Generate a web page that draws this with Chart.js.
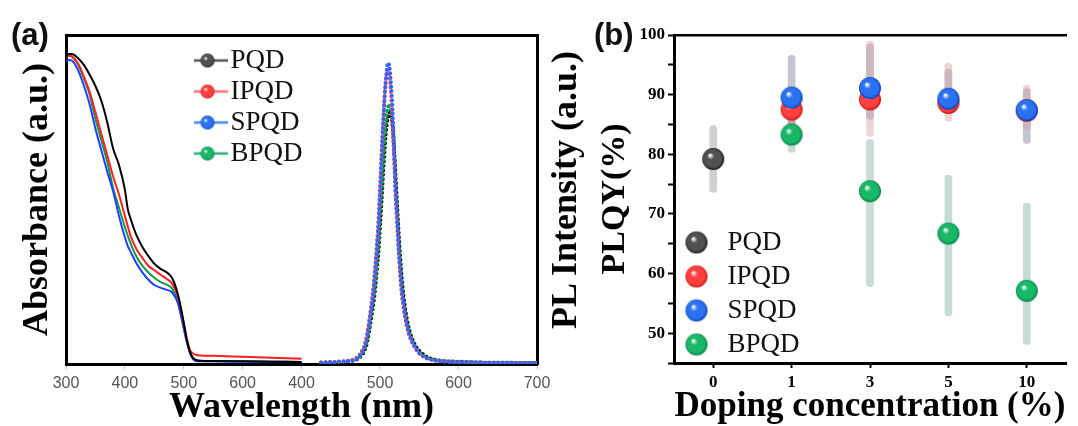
<!DOCTYPE html>
<html>
<head>
<meta charset="utf-8">
<title>Absorbance / PL / PLQY</title>
<script src="https://cdn.jsdelivr.net/npm/chart.js@4.4.1/dist/chart.umd.min.js"></script>
<style>
  body { margin: 0; background: #fff; }
  #wrap { position: relative; width: 1078px; height: 426px; overflow: hidden; background: #fff; }
  #chartA { position: absolute; left: 0; top: 0; }
  #chartB { position: absolute; left: 585px; top: 0; }
  .panel { position: absolute; font: bold 31px 'Liberation Sans', Arial, sans-serif; color: #111; }
  #plTitle {
    position: absolute; left: 564px; top: 190px;
    transform: translate(-50%, -50%) rotate(-90deg);
    font: bold 36px 'Liberation Serif', 'Times New Roman', serif;
    white-space: nowrap; color: #000;
  }
</style>
</head>
<body>
<div id="wrap">
  <canvas id="chartA" width="585" height="426"></canvas>
  <canvas id="chartB" width="493" height="426"></canvas>
  <div class="panel" style="left:11px;top:17px">(a)</div>
  <div class="panel" style="left:594px;top:17px">(b)</div>
  <div id="plTitle">PL Intensity (a.u.)</div>
</div>

<script>
// ---- panel (a): absorbance spectra ----
const absWavelength = [300, 305, 310, 320, 330, 340, 350, 360, 370, 380, 390, 400, 405, 410, 420, 430,
                       440, 450, 460, 470, 480, 490, 500, 505, 510, 515, 520, 530, 550, 600, 650, 700];
const absPQD  = [0.935, 0.942, 0.942, 0.93, 0.91, 0.88, 0.845, 0.80, 0.735, 0.655, 0.605, 0.53, 0.47, 0.44, 0.39, 0.355,
                 0.328, 0.305, 0.29, 0.28, 0.262, 0.212, 0.125, 0.075, 0.04, 0.02, 0.013, 0.01, 0.009, 0.008, 0.007, 0.006];
const absIPQD = [0.935, 0.937, 0.935, 0.915, 0.875, 0.828, 0.765, 0.70, 0.635, 0.57, 0.515, 0.45, 0.418, 0.388, 0.348, 0.322,
                 0.298, 0.285, 0.272, 0.26, 0.245, 0.205, 0.125, 0.08, 0.045, 0.033, 0.028, 0.026, 0.025, 0.022, 0.019, 0.016];
const absSPQD = [0.922, 0.924, 0.922, 0.895, 0.848, 0.79, 0.715, 0.65, 0.585, 0.525, 0.45, 0.385, 0.358, 0.34, 0.305, 0.278,
                 0.256, 0.24, 0.232, 0.226, 0.218, 0.185, 0.108, 0.068, 0.037, 0.017, 0.01, 0.008, 0.008, 0.007, 0.007, 0.006];
const absBPQD = [0.933, 0.939, 0.935, 0.912, 0.87, 0.82, 0.745, 0.68, 0.615, 0.535, 0.475, 0.416, 0.39, 0.365, 0.325, 0.298,
                 0.278, 0.262, 0.25, 0.242, 0.23, 0.19, 0.11, 0.07, 0.038, 0.018, 0.01, 0.009, 0.008, 0.008, 0.007, 0.006];

// ---- panel (a): PL spectra ----
const plWavelength = [425, 435, 445, 455, 465, 470, 474, 478,
                      480, 482, 484, 486, 488, 490, 492, 494, 496, 498, 500, 502, 504, 506, 508, 510, 512,
                      514, 516, 518, 520, 522, 524, 526, 528, 530, 532, 534, 536, 538, 540,
                      543, 546, 550, 555, 560, 570, 580, 600, 620, 640, 660, 680, 700];
const plPQD  = [0.004, 0.005, 0.006, 0.007, 0.01, 0.013, 0.02, 0.031,
                0.039, 0.052, 0.07, 0.097, 0.128, 0.158, 0.19, 0.232, 0.285, 0.34, 0.415, 0.495, 0.58, 0.655, 0.715, 0.75, 0.765,
                0.76, 0.725, 0.655, 0.565, 0.475, 0.39, 0.315, 0.255, 0.205, 0.17, 0.14, 0.116, 0.097, 0.082,
                0.066, 0.052, 0.04, 0.029, 0.021, 0.013, 0.009, 0.007, 0.005, 0.004, 0.004, 0.003, 0.003];
const plIPQD = [0.005, 0.006, 0.007, 0.009, 0.013, 0.019, 0.029, 0.045,
                0.056, 0.073, 0.098, 0.13, 0.165, 0.2, 0.245, 0.30, 0.365, 0.44, 0.535, 0.64, 0.735, 0.815, 0.87, 0.895, 0.88,
                0.82, 0.735, 0.62, 0.50, 0.415, 0.33, 0.26, 0.205, 0.17, 0.14, 0.115, 0.097, 0.082, 0.07,
                0.056, 0.044, 0.032, 0.023, 0.017, 0.011, 0.008, 0.006, 0.005, 0.004, 0.004, 0.003, 0.003];
const plSPQD = [0.004, 0.005, 0.006, 0.008, 0.011, 0.016, 0.025, 0.04,
                0.05, 0.066, 0.09, 0.12, 0.155, 0.19, 0.235, 0.29, 0.35, 0.42, 0.52, 0.63, 0.73, 0.82, 0.88, 0.915, 0.905,
                0.85, 0.77, 0.65, 0.52, 0.435, 0.345, 0.27, 0.215, 0.178, 0.145, 0.12, 0.10, 0.085, 0.072,
                0.058, 0.045, 0.033, 0.024, 0.017, 0.011, 0.008, 0.006, 0.005, 0.004, 0.004, 0.003, 0.003];
const plBPQD = [0.004, 0.005, 0.006, 0.008, 0.011, 0.015, 0.023, 0.036,
                0.045, 0.06, 0.08, 0.11, 0.145, 0.175, 0.21, 0.255, 0.31, 0.37, 0.45, 0.535, 0.62, 0.695, 0.75, 0.78, 0.79,
                0.77, 0.72, 0.635, 0.54, 0.45, 0.365, 0.29, 0.235, 0.19, 0.158, 0.13, 0.108, 0.09, 0.077,
                0.061, 0.048, 0.036, 0.026, 0.019, 0.012, 0.009, 0.006, 0.005, 0.004, 0.004, 0.003, 0.003];

// broken wavelength axis: absorbance 300-700 on the left half, PL 400-700 on the right half
const ABS_MIN = 300, ABS_MAX = 700, PL_MIN = 400, PL_MAX = 700;
const absTicks = [300, 400, 500, 600];
const plTicks = [400, 500, 600, 700];

// ---- panel (b): PLQY vs doping ----
const dopingLabels = ['0', '1', '3', '5', '10'];
const plqyPQD  = [79.2, null, null, null, null];
const plqyIPQD = [null, 87.5, 89.2, 88.6, 87.3];
const plqySPQD = [null, 89.5, 91.1, 89.3, 87.4];
const plqyBPQD = [null, 83.3, 73.8, 66.7, 57.1];
const lowPQD   = [73.6, null, null, null, null];
const highPQD  = [84.8, null, null, null, null];
const lowIPQD  = [null, 84.5, 83.0, 85.5, 84.0];
const highIPQD = [null, 90.5, 99.0, 95.3, 91.6];
const lowSPQD  = [null, 82.5, 85.9, 87.0, 81.8];
const highSPQD = [null, 96.6, 98.5, 94.3, 91.0];
const lowBPQD  = [null, 80.3, 57.8, 52.9, 48.1];
const highBPQD = [null, 86.3, 82.5, 76.5, 71.8];

const names = ['PQD', 'IPQD', 'SPQD', 'BPQD'];

// ---- styles ----
const SERIF = "'Liberation Serif', 'Times New Roman', serif";
Chart.defaults.font.family = SERIF;
Chart.defaults.color = '#000';

const lineColors = ['#000000', '#ff1f1f', '#1f3fff', '#129a45'];
const legendLineColors = ['#555555', '#ff7070', '#4a86f0', '#2fb070'];
const dotColors = ['#111111', '#ff5a5a', '#3563ff', '#14a04a'];
const ballColors = [['#505050', '#141414'], ['#ff4040', '#c41010'], ['#2a72f2', '#0a3db5'], ['#18b868', '#057d47']];
const errColors = ['rgba(150,150,150,0.45)', 'rgba(215,165,165,0.45)', 'rgba(115,115,150,0.42)', 'rgba(130,178,158,0.45)'];

// shaded sphere, optionally with a line through it (legend of panel a)
function makeBall(colors, r, w, lineColor) {
    const c = document.createElement('canvas');
    c.width = w || 2 * r + 2;
    c.height = 2 * r + 2;
    const g = c.getContext('2d');
    const cx = c.width / 2, cy = c.height / 2;
    if (lineColor) {
        g.strokeStyle = lineColor;
        g.lineWidth = 2.5;
        g.beginPath();
        g.moveTo(0, cy);
        g.lineTo(c.width, cy);
        g.stroke();
    }
    const grad = g.createRadialGradient(cx - r * 0.3, cy - r * 0.35, r * 0.05, cx, cy, r);
    grad.addColorStop(0, '#ffffff');
    grad.addColorStop(0.28, colors[0]);
    grad.addColorStop(0.8, colors[0]);
    grad.addColorStop(1, colors[1]);
    g.fillStyle = grad;
    g.beginPath();
    g.arc(cx, cy, r, 0, Math.PI * 2);
    g.fill();
    return c;
}

// a vertical chartArea legend gets top = 0 from its own fit, so place it from the chart area
function shiftLegend(dx, dy) {
    return {
        id: 'shiftLegend',
        afterLayout(chart) {
            const lg = chart.legend;
            const area = chart.chartArea;
            lg.left = area.left + dx;
            lg.right = area.right + dx;
            lg.top = area.top + dy;
            lg.bottom = area.bottom + dy;
        }
    };
}

const byIndex = (a, b) => a.datasetIndex - b.datasetIndex;

// ================= panel (a) =================
const absSeries = [absPQD, absIPQD, absSPQD, absBPQD];
const plSeries = [plPQD, plIPQD, plSPQD, plBPQD];
const legendIconsA = names.map((n, i) => makeBall(ballColors[i], 7, 40, legendLineColors[i]));

const absDatasets = names.map((name, i) => ({
    type: 'line',
    label: name,
    data: absWavelength.map((w, k) => ({ x: w, y: absSeries[i][k] })),
    xAxisID: 'x',
    yAxisID: 'y',
    borderColor: lineColors[i],
    borderWidth: 2,
    pointRadius: 0,
    pointStyle: legendIconsA[i],
    cubicInterpolationMode: 'monotone',
    fill: false
}));

// blue drawn last (on top) among PL curves
const plDatasets = [2, 1, 3, 0].map(i => ({
    type: 'line',
    label: names[i] + ' PL',
    data: plWavelength.map((w, k) => ({ x: w, y: plSeries[i][k] })),
    xAxisID: 'xPL',
    yAxisID: 'yPL',
    borderColor: dotColors[i],
    borderWidth: 4,
    borderDash: [0, 4.5],
    borderCapStyle: 'round',
    pointRadius: 0,
    cubicInterpolationMode: 'monotone',
    fill: false
}));

new Chart(document.getElementById('chartA'), {
    type: 'line',
    data: { datasets: absDatasets.concat(plDatasets) },
    options: {
        responsive: false,
        animation: false,
        devicePixelRatio: 1,
        events: [],
        layout: { padding: 0 },
        plugins: {
            legend: {
                position: 'chartArea',
                align: 'start',
                labels: {
                    usePointStyle: true,
                    pointStyleWidth: 19,
                    padding: 4,
                    color: '#111',
                    font: { family: SERIF, size: 27 },
                    filter: item => item.datasetIndex < 4,
                    sort: byIndex
                }
            },
            tooltip: { enabled: false }
        },
        scales: {
            x: {
                type: 'linear',
                position: 'bottom',
                min: ABS_MIN,
                max: ABS_MAX + (ABS_MAX - ABS_MIN),
                afterBuildTicks: scale => {
                    const k = (ABS_MAX - ABS_MIN) / (PL_MAX - PL_MIN);
                    scale.ticks = absTicks.map(v => ({ value: v }))
                        .concat(plTicks.map(w => ({ value: ABS_MAX + (w - PL_MIN) * k })));
                },
                ticks: {
                    autoSkip: false,
                    maxRotation: 0,
                    padding: 5,
                    color: '#555',
                    font: { family: "'Liberation Sans', Arial, sans-serif", size: 16 },
                    callback: v => v < ABS_MAX
                        ? v
                        : Math.round(PL_MIN + (v - ABS_MAX) * (PL_MAX - PL_MIN) / (ABS_MAX - ABS_MIN))
                },
                grid: { display: true, drawOnChartArea: false, tickLength: 5, tickColor: '#c0c0c0' },
                border: { color: '#000', width: 3 },
                title: {
                    display: true,
                    text: 'Wavelength (nm)',
                    font: { family: SERIF, size: 36, weight: 'bold', lineHeight: 1 },
                    padding: 0
                },
                afterFit: s => { s.height = 62; }
            },
            xPL: {
                type: 'linear',
                display: false,
                min: PL_MIN - (PL_MAX - PL_MIN),
                max: PL_MAX
            },
            xTop: {
                type: 'linear',
                position: 'top',
                ticks: { display: false },
                grid: { display: false },
                border: { color: '#000', width: 3 },
                afterFit: s => { s.height = 35; }
            },
            y: {
                type: 'linear',
                position: 'left',
                min: 0,
                max: 1,
                ticks: { display: false },
                grid: { display: false },
                border: { color: '#000', width: 3 },
                title: {
                    display: true,
                    text: 'Absorbance (a.u.)',
                    font: { family: SERIF, size: 36, weight: 'bold', lineHeight: 1 },
                    padding: { top: 20, bottom: 0 }
                },
                afterFit: s => { s.width = 66; }
            },
            yPL: {
                type: 'linear',
                position: 'right',
                min: 0,
                max: 1,
                ticks: { display: false },
                grid: { display: false },
                border: { color: '#000', width: 3 },
                afterFit: s => { s.width = 48; }
            }
        }
    },
    plugins: [shiftLegend(128, 8)]
});

// ================= panel (b) =================
const plqySeries = [plqyPQD, plqyIPQD, plqySPQD, plqyBPQD];
const lowSeries = [lowPQD, lowIPQD, lowSPQD, lowBPQD];
const highSeries = [highPQD, highIPQD, highSPQD, highBPQD];
const ballIcons = names.map((n, i) => makeBall(ballColors[i], 11));

const errDatasets = names.map((name, i) => ({
    type: 'bar',
    label: name + ' range',
    data: lowSeries[i].map((l, k) => (l == null ? null : [l, highSeries[i][k]])),
    backgroundColor: errColors[i],
    borderWidth: 0,
    borderSkipped: false,
    borderRadius: 4,
    barThickness: 7,
    grouped: false,
    order: 2
}));

const ballDatasets = names.map((name, i) => ({
    type: 'line',
    label: name,
    data: plqySeries[i],
    showLine: false,
    pointStyle: ballIcons[i],
    pointRadius: 11,
    order: i === 2 ? -1 : 0   // SPQD sits on top of IPQD
}));

new Chart(document.getElementById('chartB'), {
    type: 'bar',
    data: { labels: dopingLabels, datasets: errDatasets.concat(ballDatasets) },
    options: {
        responsive: false,
        animation: false,
        devicePixelRatio: 1,
        events: [],
        layout: { padding: 0 },
        plugins: {
            legend: {
                position: 'chartArea',
                align: 'end',
                labels: {
                    usePointStyle: true,
                    pointStyleWidth: 35,
                    padding: 7,
                    color: '#111',
                    font: { family: SERIF, size: 27 },
                    filter: item => item.datasetIndex >= 4,
                    sort: byIndex
                }
            },
            tooltip: { enabled: false }
        },
        scales: {
            x: {
                type: 'category',
                offset: true,
                grid: { display: true, drawOnChartArea: false, offset: false, tickLength: 5, tickWidth: 2, tickColor: '#000' },
                border: { color: '#000', width: 3 },
                ticks: { padding: 4, color: '#000', font: { family: SERIF, size: 17, weight: 'bold' } },
                title: {
                    display: true,
                    text: 'Doping concentration (%)',
                    font: { family: SERIF, size: 35, weight: 'bold', lineHeight: 1 },
                    padding: { top: 0, bottom: 2 }
                },
                afterFit: s => { s.height = 63; }
            },
            xTop: {
                type: 'linear',
                position: 'top',
                ticks: { display: false },
                grid: { display: false },
                border: { color: '#000', width: 2.5 },
                afterFit: s => { s.height = 35; }
            },
            y: {
                type: 'linear',
                min: 45,
                max: 100,
                ticks: {
                    stepSize: 5,
                    padding: 3,
                    color: '#000',
                    font: { family: SERIF, size: 17, weight: 'bold' },
                    callback: v => (v % 10 === 0 ? v : '')
                },
                grid: { display: true, drawOnChartArea: false, tickLength: 6, tickWidth: 2, tickColor: '#000' },
                border: { color: '#000', width: 3 },
                title: {
                    display: true,
                    text: 'PLQY(%)',
                    font: { family: SERIF, size: 34, weight: 'bold', lineHeight: 1 },
                    padding: { top: 13, bottom: 0 }
                },
                afterFit: s => { s.width = 89; }
            }
        }
    },
    plugins: [shiftLegend(-2, 2)]
});
</script>
</body>
</html>
